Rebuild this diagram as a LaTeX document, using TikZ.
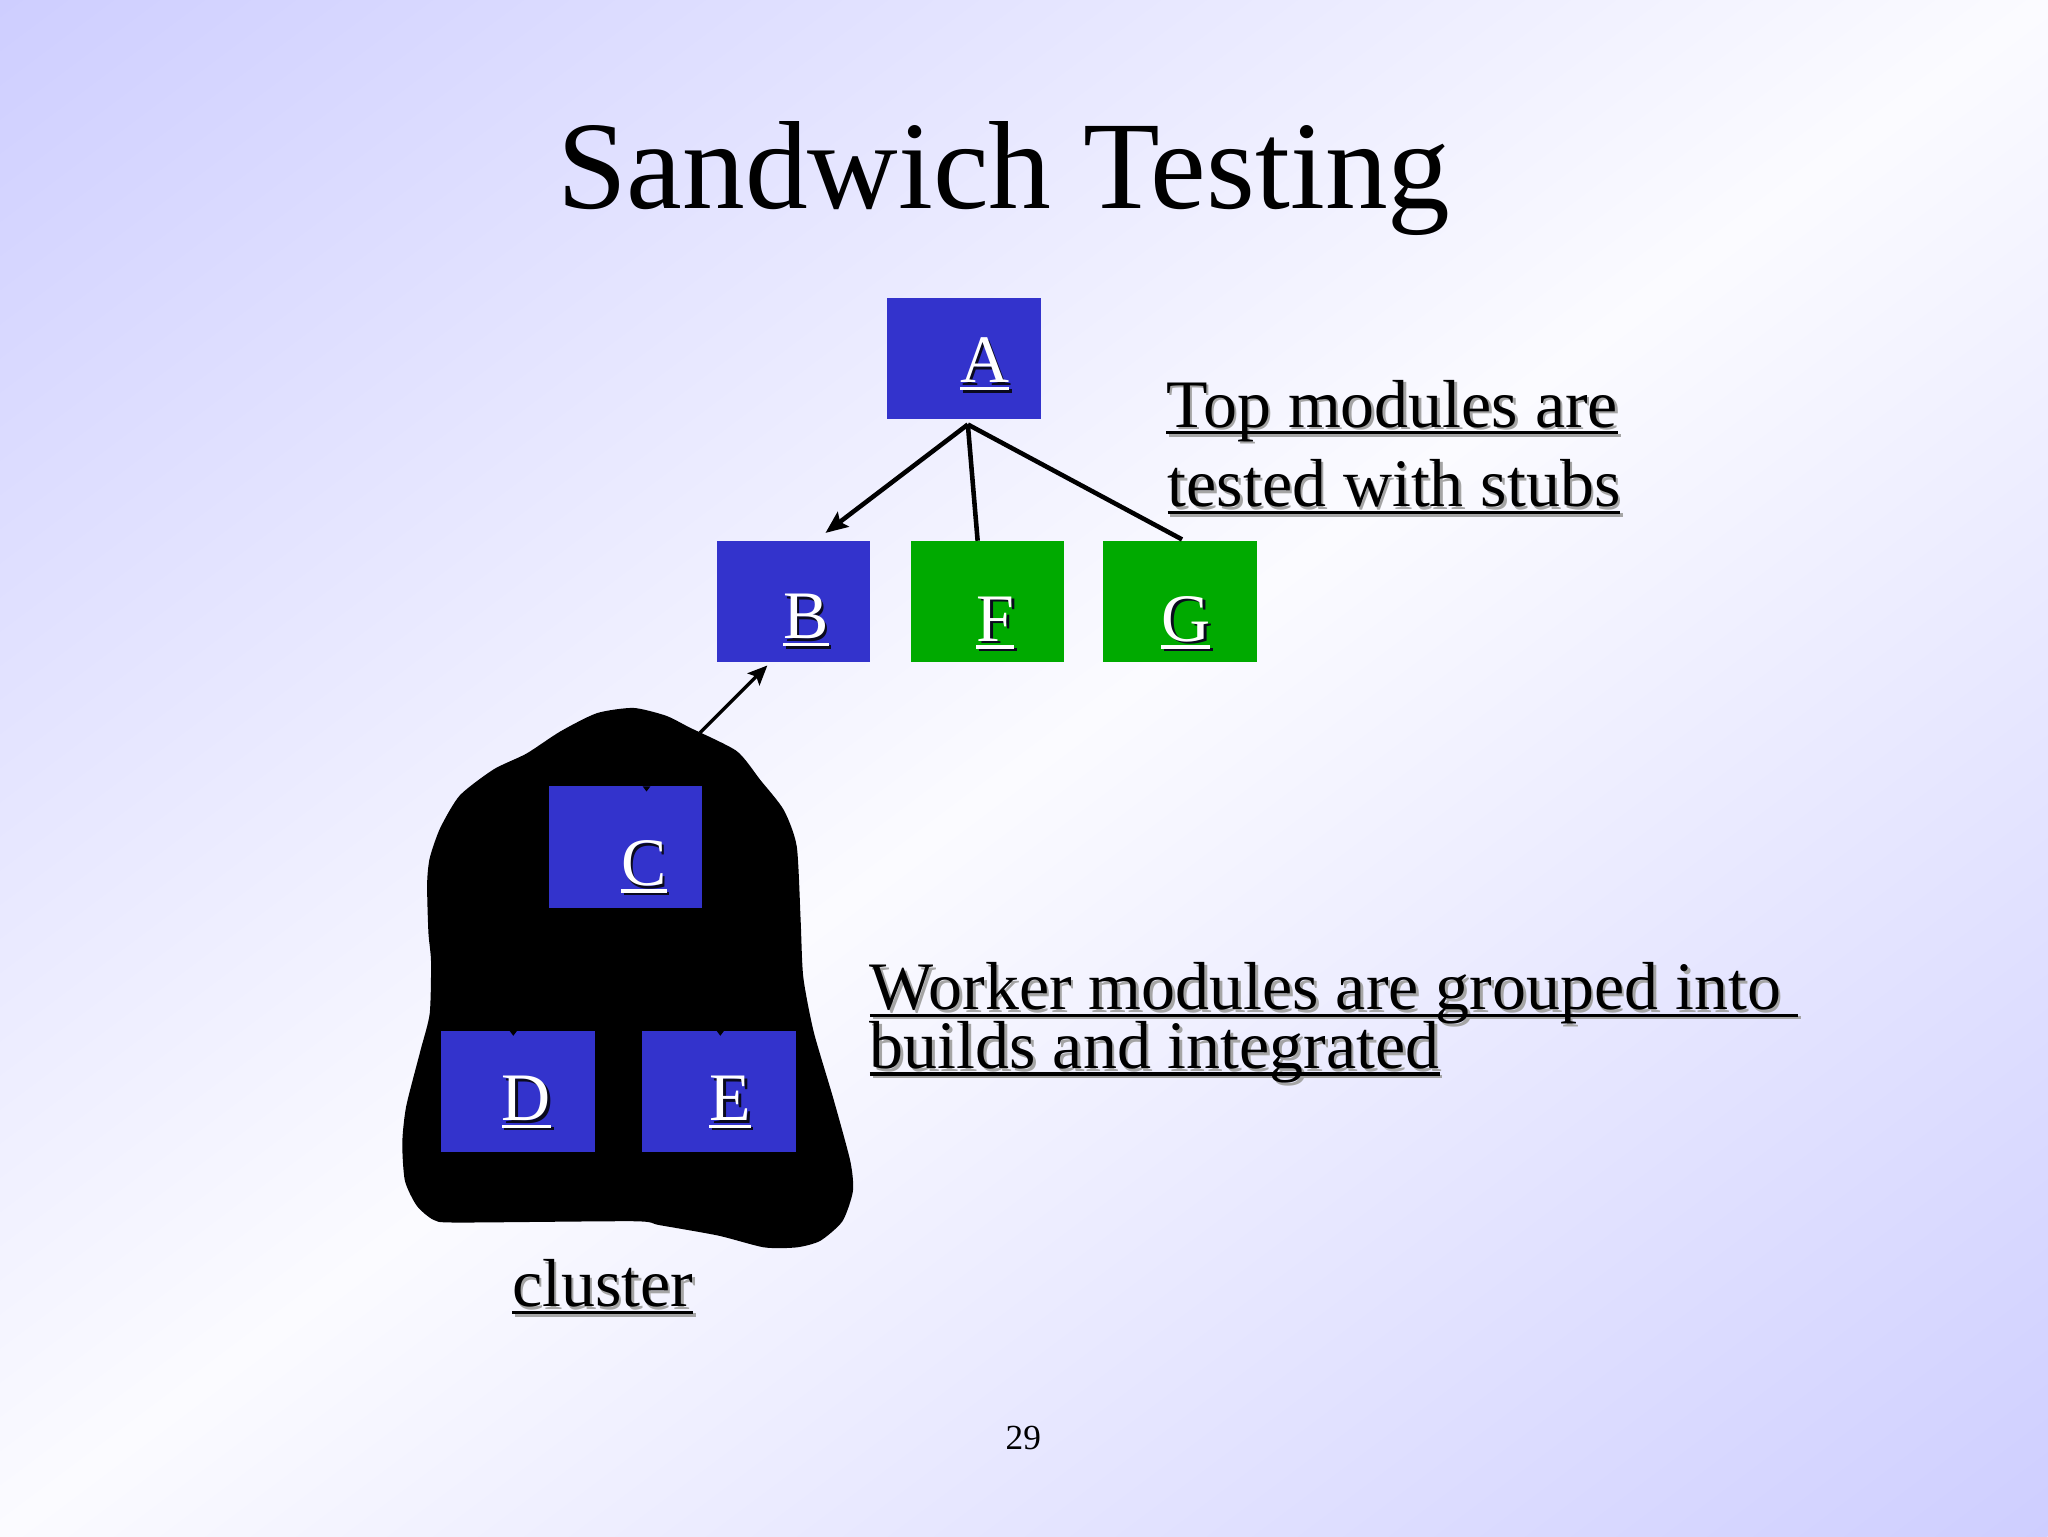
\documentclass[tikz,border=0pt]{standalone}
\usepackage{fontspec}
\setmainfont{Liberation Serif}
\usetikzlibrary{arrows.meta}
\definecolor{lav}{RGB}{206,206,255}
\definecolor{bgmid}{RGB}{251,251,255}
\definecolor{boxblue}{RGB}{51,51,204}
\definecolor{boxgreen}{RGB}{0,170,0}
\definecolor{shgray}{RGB}{165,165,165}
\definecolor{shdark}{RGB}{10,10,30}
\pgfdeclarehorizontalshading{bgshade}{2000pt}{color(0pt)=(lav); color(941pt)=(bgmid); color(1882pt)=(lav)}
\newcommand\ulsh[3]{%
  \setbox0=\hbox{#3}%
  \rlap{\kern2pt\raisebox{-2pt}{\textcolor{#2}{\rule[-5.5pt]{\wd0}{2.5pt}}}}%
  \rlap{\kern2pt\raisebox{-2pt}{\textcolor{#2}{#3}}}%
  \rlap{\textcolor{#1}{\rule[-5.5pt]{\wd0}{2.5pt}}}%
  \textcolor{#1}{#3}}
\begin{document}
\begin{tikzpicture}[x=1pt,y=-1pt,
  mbox/.style={rectangle, minimum width=117.5pt, minimum height=93pt, inner sep=0pt, outer sep=0pt},
  bluebox/.style={mbox, fill=boxblue},
  greenbox/.style={mbox, fill=boxgreen},
  letter/.style={inner sep=0pt, outer sep=0pt, anchor=base, font=\fontsize{52}{60}\selectfont},
  lbl/.style={inner sep=0pt, outer sep=0pt, anchor=base west, font=\fontsize{52}{60}\selectfont},
  conn/.style={line width=3.5pt, black},
  thinconn/.style={line width=2.6pt, black},
  notch/.style={fill=black}]
\useasboundingbox (0,0) rectangle (1568,1176);
\begin{scope}
  \clip (0,0) rectangle (1568,1176);
  \node[inner sep=0pt, outer sep=0pt, rotate=-53.13] (bg) at (784,588) {\pgfuseshading{bgshade}};
\end{scope}

% title
\node[inner sep=0pt, anchor=base, font=\fontsize{96}{110}\selectfont] (title) at (768.5,160) {Sandwich Testing};

% cluster blob
\fill[black] plot[smooth cycle, tension=0.4] coordinates {
 (485,542) (510,548) (528,557) (564,575) (582,597) (600,620) (610,648)
 (613,705) (615,748) (623,790) (638,841) (651,889) (653,912) (645,935)
 (628,950) (610,955) (585,955) (550,946) (505,938) (485,935) (350,936)
 (332,934) (319,923) (310,904) (308,875) (311,847) (322,804) (329,776)
 (330,736) (328,714) (327,677) (329,657) (337,634) (352,609) (378,589)
 (403,577) (429,560) (457,546)};
\coordinate (blobtip) at (536,561);

% boxes
\node[bluebox] (A) at (738,274.5) {};
\node[bluebox] (B) at (607.5,460.5) {};
\node[greenbox] (F) at (756,460.5) {};
\node[greenbox] (G) at (903.5,460.5) {};
\node[bluebox] (C) at (479,648.5) {};
\node[bluebox] (D) at (396.5,835.5) {};
\node[bluebox] (E) at (550.5,835.5) {};

% small notches on cluster boxes
\fill[notch] ([shift={(13,0)}]C.north) -- ([shift={(19,0)}]C.north) -- ([shift={(16,4)}]C.north) -- cycle;
\fill[notch] ([shift={(-6.5,0)}]D.north) -- ([shift={(-0.5,0)}]D.north) -- ([shift={(-3.5,4)}]D.north) -- cycle;
\fill[notch] ([shift={(-2,0)}]E.north) -- ([shift={(4,0)}]E.north) -- ([shift={(1,4)}]E.north) -- cycle;

% letters
\node[letter] (Al) at (754,293) {\ulsh{white}{shdark}{A}};
\node[letter] (Bl) at (617,489) {\ulsh{white}{shdark}{B}};
\node[letter] (Fl) at (762,491) {\ulsh{white}{shdark}{F}};
\node[letter] (Gl) at (908,491) {\ulsh{white}{shdark}{G}};
\node[letter] (Cl) at (493,678) {\ulsh{white}{shdark}{C}};
\node[letter] (Dl) at (403,858) {\ulsh{white}{shdark}{D}};
\node[letter] (El) at (559,858) {\ulsh{white}{shdark}{E}};

% connectors
\coordinate (Aj) at ([shift={(3,4)}]A.south);
\draw[conn, -{Stealth[length=17pt,width=14pt,inset=3pt]}] (Aj) -- ([shift={(24.5,-6)}]B.north);
\draw[conn] (Aj) -- ([shift={(-7.5,0)}]F.north);
\draw[conn] (Aj) -- ([shift={(1.5,-1)}]G.north);
\draw[thinconn, -{Stealth[length=15pt,width=13pt,inset=3pt]}] (blobtip) -- ([shift={(-20,2.5)}]B.south);

% labels
\node[lbl] (top1) at (893,327) {\ulsh{black}{shgray}{Top modules are}};
\node[lbl] (top2) at (894,388) {\ulsh{black}{shgray}{tested with stubs}};
\node[lbl] (work1) at (666,773) {\ulsh{black}{shgray}{Worker modules are grouped into\ }};
\node[lbl] (work2) at (666,818) {\ulsh{black}{shgray}{builds and integrated}};
\node[lbl] (clus) at (392,1000.5) {\ulsh{black}{shgray}{cluster}};

% page number
\node[inner sep=0pt, anchor=base, font=\fontsize{27}{30}\selectfont] (pnum) at (783.5,1110) {29};
\end{tikzpicture}
\end{document}
